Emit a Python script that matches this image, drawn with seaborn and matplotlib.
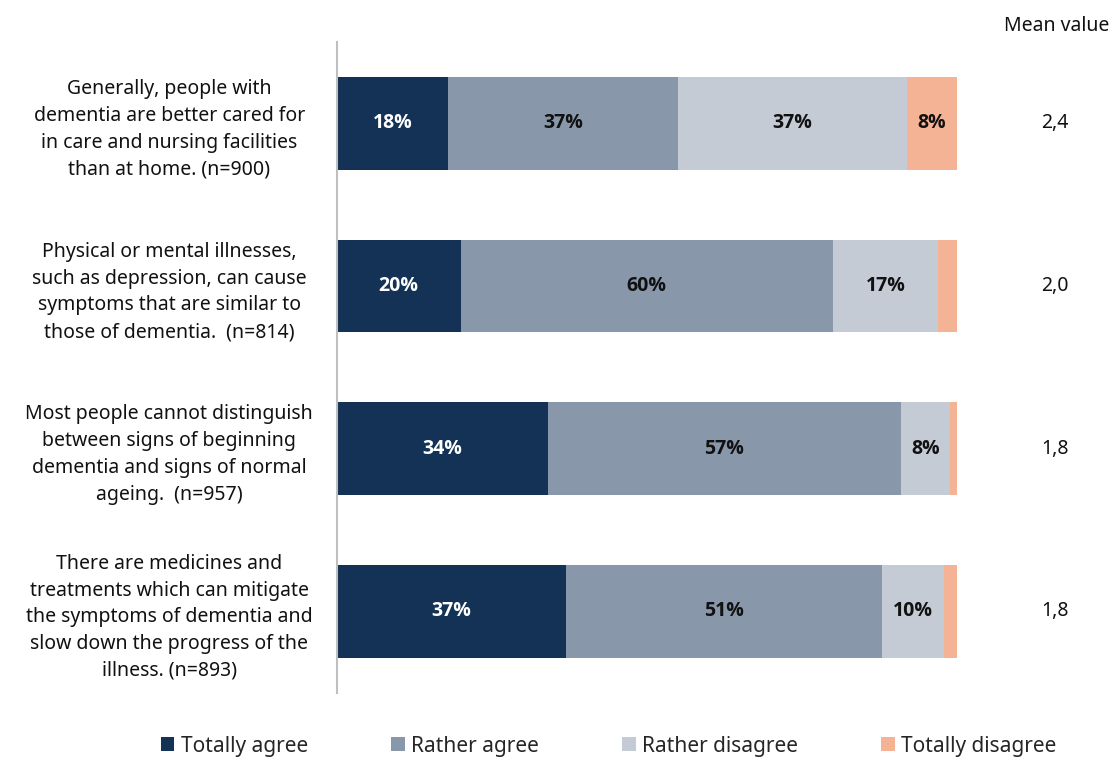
import matplotlib
matplotlib.use("Agg")
import matplotlib.pyplot as plt
from matplotlib.patches import Patch
import seaborn as sns
import pandas as pd

sns.set_theme(style="white")
plt.rcParams["font.family"] = ["Noto Sans", "DejaVu Sans"]

statements = [
    "Generally, people with\ndementia are better cared for\nin care and nursing facilities\nthan at home. (n=900)",
    "Physical or mental illnesses,\nsuch as depression, can cause\nsymptoms that are similar to\nthose of dementia.  (n=814)",
    "Most people cannot distinguish\nbetween signs of beginning\ndementia and signs of normal\nageing.  (n=957)",
    "There are medicines and\ntreatments which can mitigate\nthe symptoms of dementia and\nslow down the progress of the\nillness. (n=893)",
]
categories = ["Totally agree", "Rather agree", "Rather disagree", "Totally disagree"]
totally_agree = [18, 20, 34, 37]
rather_agree = [37, 60, 57, 51]
rather_disagree = [37, 17, 8, 10]
totally_disagree = [8, 3, 1, 2]
mean_values = ["2,4", "2,0", "1,8", "1,8"]

colors = ["#133255", "#8898aa", "#c4cbd5", "#f3b394"]
text_colors = ["white", "#111111", "#111111", "#111111"]
label_min = 5

series = [totally_agree, rather_agree, rather_disagree, totally_disagree]
df = pd.DataFrame({"statement": statements})
for name, vals in zip(categories, series):
    df[name] = vals
cum = df[categories].cumsum(axis=1)
cum["statement"] = df["statement"]

fig = plt.figure(figsize=(11.15, 7.63), dpi=100)
ax = fig.add_axes([0.302, 0.092, 0.556, 0.853])

# stacked bars: draw cumulative totals from the outermost segment inward
for name, color in reversed(list(zip(categories, colors))):
    sns.barplot(data=cum, x=name, y="statement", orient="h", color=color,
                width=0.57, ax=ax, saturation=1, edgecolor="none", linewidth=0)

# percentage labels in the centre of each segment, mean value on the right
for i in range(len(statements)):
    left = 0
    for j, name in enumerate(categories):
        v = df.loc[i, name]
        if v >= label_min:
            ax.text(left + v / 2, i, f"{v}%", ha="center", va="center",
                    fontsize=14, fontweight="bold", color=text_colors[j],
                    family=["Open Sans", "DejaVu Sans"])
        left += v
    ax.text(1.159, i, mean_values[i], transform=ax.get_yaxis_transform(),
            ha="center", va="center", fontsize=14, color="#111111")

fig.text(0.995, 0.966, "Mean value", ha="right", va="center", fontsize=14,
         color="#111111")

ax.set_xlim(0, 100)
ax.set_ylim(3.5, -0.5)
ax.set_xlabel("")
ax.set_ylabel("")
ax.set_xticks([])
ax.tick_params(axis="y", length=0)
ax.set_yticks(range(len(statements)))
ax.set_yticklabels(statements, fontsize=14, color="#111111", ha="center",
                   multialignment="center", linespacing=1.45)
for lbl in ax.get_yticklabels():
    lbl.set_x(-0.27)
    lbl.set_transform(ax.get_yaxis_transform())
for side in ["top", "right", "bottom"]:
    ax.spines[side].set_visible(False)
ax.spines["left"].set_color("#bfbfbf")
ax.spines["left"].set_linewidth(1.5)

handles = [Patch(facecolor=c, edgecolor="none") for c in colors]
fig.legend(handles, categories, loc="center", bbox_to_anchor=(0.546, 0.022),
           ncol=4, frameon=False, fontsize=15, handlelength=0.65,
           handleheight=0.65, handletextpad=0.3, columnspacing=4.0)

fig.savefig("out.png", dpi=100, facecolor="white")
